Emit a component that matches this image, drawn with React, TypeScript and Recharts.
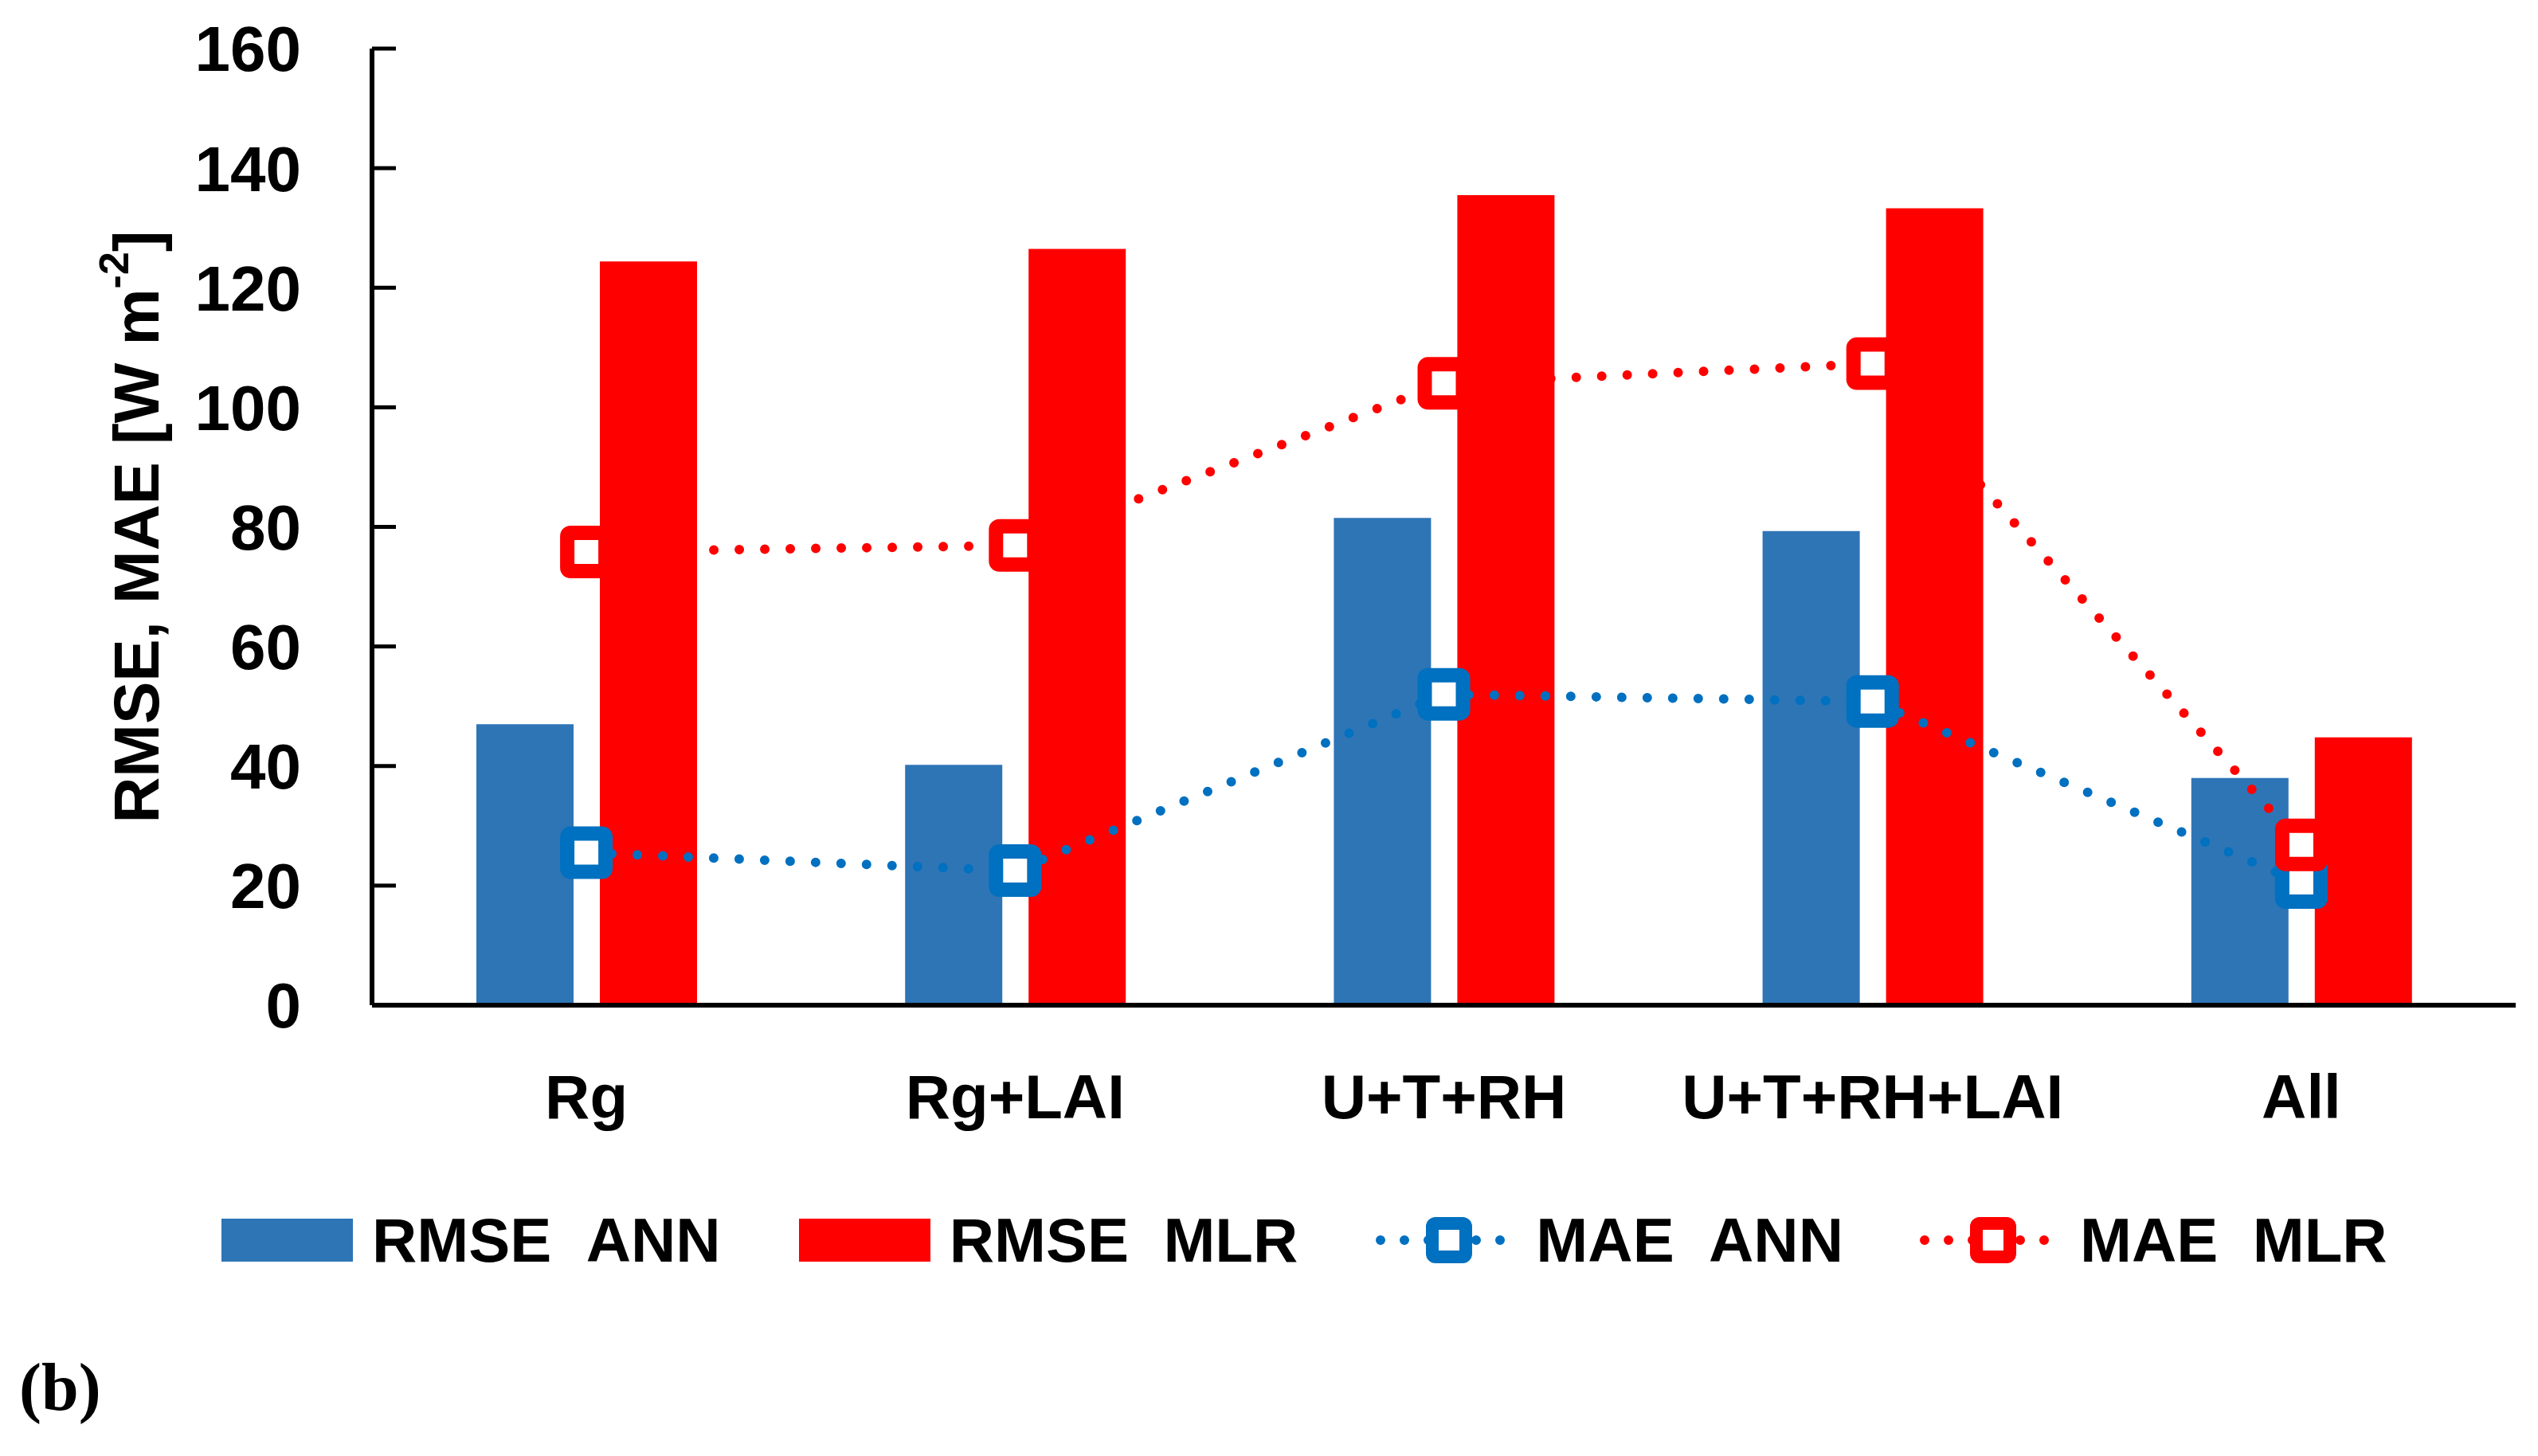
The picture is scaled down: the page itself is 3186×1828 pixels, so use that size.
import { ComposedChart, Bar, Line, XAxis, YAxis, Legend } from 'recharts';

const categories = ['Rg', 'Rg+LAI', 'U+T+RH', 'U+T+RH+LAI', 'All'];
const rmseAnn = [47, 40.2, 81.5, 79.3, 38];
const rmseMlr = [124.4, 126.5, 135.5, 133.3, 44.8];
const maeAnn = [25.5, 22.5, 52, 50.8, 20.5];
const maeMlr = [75.8, 76.9, 104, 107.3, 26.8];
const yTicks = [0, 20, 40, 60, 80, 100, 120, 140, 160];

const BLUE_BAR = '#2E75B6';
const BLUE_LINE = '#0070C0';
const RED = '#FF0000';
const FONT = '"Liberation Sans", Arial, sans-serif';

const data = categories.map((name, i) => ({
  name,
  rmseAnn: rmseAnn[i],
  rmseMlr: rmseMlr[i],
  maeAnn: maeAnn[i],
  maeMlr: maeMlr[i],
}));

const squareDot = (color: string) => (props: any) => {
  const { cx, cy, index } = props;
  if (cx == null || cy == null) return null;
  return (
    <rect
      key={`dot-${color}-${index}`}
      x={cx - 24}
      y={cy - 24}
      width={48}
      height={48}
      rx={4}
      fill="#fff"
      stroke={color}
      strokeWidth={18}
    />
  );
};

const YTick = (props: any) => {
  const { x, y, payload } = props;
  return (
    <g>
      <text x={x} y={y} dy="0.355em" textAnchor="end" fill="#000" fontSize={80} fontWeight={700} fontFamily={FONT}>
        {payload.value}
      </text>
      <line x1={x + 89} x2={x + 119} y1={y} y2={y} stroke="#000" strokeWidth={5} />
    </g>
  );
};

const YTitle = (props: any) => {
  const { viewBox } = props;
  const cx = viewBox.x + 171;
  const cy = viewBox.y + viewBox.height / 2;
  return (
    <text
      x={cx}
      y={cy}
      transform={`rotate(-90, ${cx}, ${cy})`}
      textAnchor="middle"
      dominantBaseline="central"
      fill="#000"
      fontSize={80}
      fontWeight={700}
      fontFamily={FONT}
    >
      RMSE, MAE [W m<tspan fontSize={52} dy={-28}>-2</tspan><tspan dy={28}>]</tspan>
    </text>
  );
};

const legendItems = [
  { name: 'RMSE\u00a0\u00a0ANN', color: BLUE_BAR, kind: 'bar' },
  { name: 'RMSE\u00a0\u00a0MLR', color: RED, kind: 'bar' },
  { name: 'MAE\u00a0\u00a0ANN', color: BLUE_LINE, kind: 'line' },
  { name: 'MAE\u00a0\u00a0MLR', color: RED, kind: 'line' },
];

const LegendContent = () => (
  <div style={{ display: 'flex', alignItems: 'center', paddingLeft: 278 }}>
    {legendItems.map((item) => (
      <div key={item.name} style={{ display: 'flex', alignItems: 'center', marginRight: item.kind === 'bar' ? 98 : 96 }}>
        {item.kind === 'bar' ? (
          <svg width={165} height={54} style={{ marginRight: 24 }}>
            <rect x={0} y={0} width={165} height={54} fill={item.color} />
          </svg>
        ) : (
          <svg width={183} height={70} style={{ marginRight: 18 }}>
            <line x1={6} x2={177} y1={35} y2={35} stroke={item.color} strokeWidth={12} strokeDasharray="0 30" strokeLinecap="round" />
            <rect x={71} y={14} width={42} height={42} rx={4} fill="#fff" stroke={item.color} strokeWidth={16} />
          </svg>
        )}
        <span style={{ fontFamily: FONT, fontWeight: 700, fontSize: 78, color: '#000', lineHeight: 1, whiteSpace: 'pre' }}>
          {item.name}
        </span>
      </div>
    ))}
  </div>
);

export default function App() {
  return (
    <div style={{ position: 'absolute', left: 0, top: 0, width: 3186, height: 1828, background: '#fff' }}>
      <ComposedChart
        width={3186}
        height={1828}
        data={data}
        margin={{ top: 61, right: 28, bottom: 416, left: 0 }}
        barGap={33}
        barSize={122}
      >
        <XAxis
          dataKey="name"
          height={150}
          axisLine={{ stroke: '#000', strokeWidth: 6 }}
          tickLine={false}
          tickSize={0}
          tickMargin={87}
          tick={{ fill: '#000', fontSize: 78, fontWeight: 700, fontFamily: FONT }}
          interval={0}
        />
        <YAxis
          width={467}
          domain={[0, 160]}
          ticks={yTicks}
          axisLine={{ stroke: '#000', strokeWidth: 6 }}
          tickLine={false}
          tickSize={0}
          tickMargin={89}
          tick={<YTick />}
          label={<YTitle />}
        />
        <Legend
          layout="horizontal"
          verticalAlign="middle"
          content={<LegendContent />}
          wrapperStyle={{ top: 1518, left: 0, width: 3186 }}
        />
        <Bar dataKey="rmseAnn" name="RMSE ANN" fill={BLUE_BAR} isAnimationActive={false} />
        <Bar dataKey="rmseMlr" name="RMSE MLR" fill={RED} isAnimationActive={false} />
        <Line
          type="linear"
          dataKey="maeAnn"
          name="MAE ANN"
          stroke={BLUE_LINE}
          strokeWidth={12}
          strokeDasharray="0 32"
          strokeLinecap="round"
          dot={squareDot(BLUE_LINE)}
          activeDot={false}
          isAnimationActive={false}
        />
        <Line
          type="linear"
          dataKey="maeMlr"
          name="MAE MLR"
          stroke={RED}
          strokeWidth={12}
          strokeDasharray="0 32"
          strokeLinecap="round"
          dot={squareDot(RED)}
          activeDot={false}
          isAnimationActive={false}
        />
      </ComposedChart>
      <div
        style={{
          position: 'absolute',
          left: 24,
          top: 1700,
          fontFamily: '"Liberation Serif", "Times New Roman", serif',
          fontWeight: 700,
          fontSize: 84,
          color: '#000',
          lineHeight: 1,
        }}
      >
        (b)
      </div>
    </div>
  );
}
